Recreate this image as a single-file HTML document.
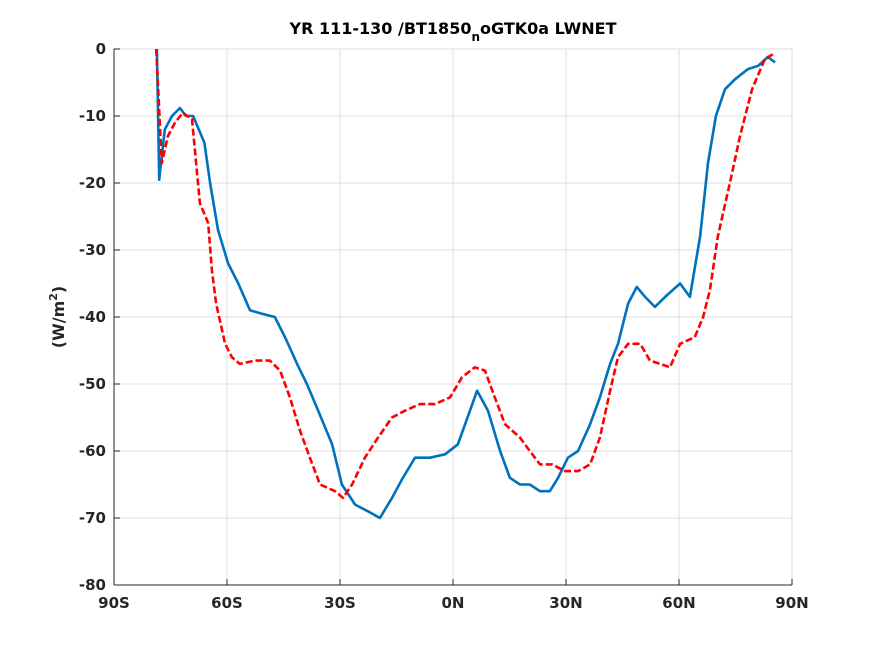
<!DOCTYPE html>
<html><head><meta charset="utf-8"><style>
body{margin:0;background:#fff;}
svg{display:block;font-family:"DejaVu Sans","Liberation Sans",sans-serif;}
</style></head><body>
<svg id="chart" width="875" height="656" viewBox="0 0 875 656" xmlns="http://www.w3.org/2000/svg">
<rect x="0" y="0" width="875" height="656" fill="#fff"/>
<g id="grid"></g>
<line x1="114" y1="49" x2="792" y2="49" stroke="#dcdcdc"/>
<line x1="792" y1="49" x2="792" y2="585" stroke="#dcdcdc"/>
<g id="series"></g>
<line x1="114" y1="585" x2="792" y2="585" stroke="#262626"/>
<line x1="114" y1="49" x2="114" y2="585" stroke="#262626"/>
<g id="ticks"></g>
<text x="453" y="34" text-anchor="middle" font-size="16" font-weight="bold" fill="#000">YR 111-130 /BT1850<tspan font-size="12" dy="7">n</tspan><tspan dy="-7">oGTK0a LWNET</tspan></text>
<text transform="translate(64,317) rotate(-90)" text-anchor="middle" font-size="16" font-weight="bold" fill="#262626">(W/m<tspan font-size="11" dy="-7">2</tspan><tspan dy="7">)</tspan></text>
</svg>
<script>
const xTicks=[-90,-60,-30,0,30,60,90];
const xTickLabels=["90S","60S","30S","0N","30N","60N","90N"];
const yTicks=[0,-10,-20,-30,-40,-50,-60,-70,-80];
const blueLat=[-78.6,-78,-76.5,-74.6,-72.5,-70.9,-69,-66,-64.5,-62.4,-59.7,-57,-53.9,-50.7,-47.3,-44.6,-41.4,-38.8,-35.8,-32.1,-29.5,-26,-22.6,-19.4,-16.2,-13.3,-10.1,-6.1,-2.1,1.3,4.5,6.4,9.3,12.5,15.1,17.8,20.4,23.1,25.7,27.9,30.5,33.2,36.4,39,41.7,43.8,46.5,48.8,51,53.6,56.3,60.3,62.9,65.6,67.7,69.8,72.2,74.9,78.3,81,83.6,85.5];
const blueVal=[0,-19.5,-12,-10,-8.8,-10,-10,-14,-20,-27,-32,-35,-39,-39.5,-40,-43,-47,-50,-54,-59,-65,-68,-69,-70,-67,-64,-61,-61,-60.5,-59,-54,-51,-54,-60,-64,-65,-65,-66,-66,-64,-61,-60,-56,-52,-47,-44,-38,-35.5,-37,-38.5,-37,-35,-37,-28,-17,-10,-6,-4.5,-3,-2.5,-1.2,-2];
const redLat=[-78.8,-77.3,-75.7,-73.8,-71.7,-69.3,-68.2,-67.2,-65,-64,-62.9,-60.5,-58.7,-56.6,-52.6,-48.6,-45.9,-43.3,-40.6,-38,-35.3,-31.3,-29.2,-26.8,-23.4,-19.9,-16.2,-12.8,-8.8,-4.8,-0.8,2.4,5.8,8.5,11.1,13.8,17.8,20.4,23.1,26.3,29.7,33.2,36.4,39,41.7,43.8,46.5,49.7,52.3,55,57.6,60.3,64.2,66.4,68.2,70.3,73.5,76.2,79.4,82.8,84.9];
const redVal=[0,-17,-13,-11,-9.5,-10.5,-17,-23,-26,-33,-38,-44,-46,-47,-46.5,-46.5,-48,-52,-57,-61,-65,-66,-67,-65,-61,-58,-55,-54,-53,-53,-52,-49,-47.5,-48,-52,-56,-58,-60,-62,-62,-63,-63,-62,-58,-51,-46,-44,-44,-46.5,-47,-47.5,-44,-43,-40,-36,-28,-20,-13,-6,-1.5,-0.8];

const X0=114,X1=792,Y0=49,Y1=585;
const xs=v=>X0+(v+90)/180*(X1-X0);
const ys=v=>Y0+(0-v)/80*(Y1-Y0);
const NS="http://www.w3.org/2000/svg";
function mk(tag,parent){const e=document.createElementNS(NS,tag);parent.appendChild(e);return e;}
const grid=document.getElementById('grid'),ticks=document.getElementById('ticks'),series=document.getElementById('series');
xTicks.forEach((t,i)=>{
  const x=xs(t);
  const g=mk('line',grid);
  
  
  g.setAttribute('x1',x);g.setAttribute('x2',x);g.setAttribute('y1',Y0);g.setAttribute('y2',Y1);g.setAttribute('stroke','#dfdfdf');
  const tk=mk('line',ticks);
  
  
  tk.setAttribute('x1',x);tk.setAttribute('x2',x);tk.setAttribute('y1',Y1);tk.setAttribute('y2',Y1-6);tk.setAttribute('stroke','#262626');
  const l=mk('text',ticks);
  
  
  l.setAttribute('x',x);l.setAttribute('y',Y1+23);l.setAttribute('text-anchor','middle');l.setAttribute('font-size','15');l.setAttribute('font-weight','bold');l.setAttribute('fill','#262626');
  l.textContent=xTickLabels[i];
});
yTicks.forEach(t=>{
  const y=ys(t);
  const g=mk('line',grid);
  
  
  g.setAttribute('x1',X0);g.setAttribute('x2',X1);g.setAttribute('y1',y);g.setAttribute('y2',y);g.setAttribute('stroke','#dfdfdf');
  const tk=mk('line',ticks);
  
  
  tk.setAttribute('x1',X0);tk.setAttribute('x2',X0+6);tk.setAttribute('y1',y);tk.setAttribute('y2',y);tk.setAttribute('stroke','#262626');
  const l=mk('text',ticks);
  
  
  l.setAttribute('x',X0-8);l.setAttribute('y',y+5);l.setAttribute('text-anchor','end');l.setAttribute('font-size','15');l.setAttribute('font-weight','bold');l.setAttribute('fill','#262626');
  l.textContent=String(t);
});
function line(lat,val,color,dash,name){
  const p=mk('path',series);
  
  
  p.setAttribute('d',lat.map((a,i)=>(i?'L':'M')+xs(a).toFixed(1)+','+ys(val[i]).toFixed(1)).join(''));
  p.setAttribute('fill','none');p.setAttribute('stroke',color);p.setAttribute('stroke-width','2.6');p.setAttribute('stroke-linejoin','round');
  if(dash)p.setAttribute('stroke-dasharray',dash);
}
line(blueLat,blueVal,'#0072BD',null,'series-blue');
line(redLat,redVal,'#FF0000','7,3','series-red');
</script>
</body></html>
